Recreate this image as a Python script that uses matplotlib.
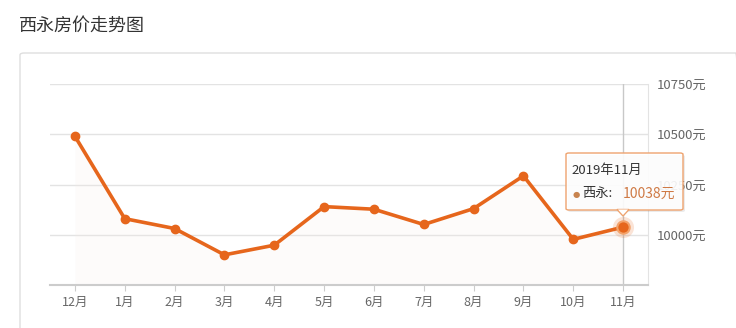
import matplotlib.pyplot as plt
from matplotlib.patches import FancyBboxPatch, Polygon
import numpy as np

plt.rcParams['font.family'] = ['Noto Sans CJK SC', 'DejaVu Sans']

months = ["12月", "1月", "2月", "3月", "4月", "5月", "6月", "7月", "8月", "9月", "10月", "11月"]
prices = [10490, 10080, 10031, 9900, 9948, 10140, 10127, 10051, 10130, 10293, 9977, 10038]
y_ticks = [10000, 10250, 10500, 10750]
title = "西永房价走势图"
tip_month = "2019年11月"
tip_name = "西永:"

W, H = 736, 328
orange = "#e6661c"


def fx(px):
    return px / W


def fy(py):
    return 1 - py / H


fig = plt.figure(figsize=(W / 100, H / 100), dpi=100)
fig.patch.set_facecolor("white")

# card frame
card = FancyBboxPatch((fx(20), fy(340)), fx(740) - fx(20), fy(53) - fy(340),
                      boxstyle="round,pad=0,rounding_size=0.006",
                      transform=fig.transFigure, facecolor="none",
                      edgecolor="#dedede", linewidth=1.0, zorder=-1)
fig.patches.append(card)

fig.text(fx(19), fy(26), title, fontsize=13, color="#333333", va="center", ha="left")

ax = fig.add_axes([fx(50), fy(285), fx(648) - fx(50), fy(84) - fy(285)])
ax.set_facecolor("none")
x = np.arange(len(months))

ax.fill_between(x, prices, 9750, color="#f6ede6", alpha=0.2, linewidth=0, zorder=1)
ax.plot(x, prices, color=orange, linewidth=2.6, marker="o", markersize=6,
        markerfacecolor=orange, markeredgecolor=orange, zorder=3)

# highlighted last point
ax.axvline(x[-1], color="#c8c8c8", linewidth=1, zorder=2)
ax.scatter([x[-1]], [prices[-1]], s=230, color=orange, alpha=0.18, linewidths=0, zorder=4)
ax.scatter([x[-1]], [prices[-1]], s=80, color=orange, edgecolors="#f3a36b",
           linewidths=1.5, zorder=5)

ax.set_xlim(-0.5, len(months) - 0.5)
ax.set_ylim(9750, 10750)
ax.set_xticks(x)
ax.set_xticklabels(months)
ax.set_yticks(y_ticks)
ax.set_yticklabels([f"{v}元" for v in y_ticks])
ax.yaxis.tick_right()
ax.tick_params(axis="y", length=0, pad=6, labelsize=9.5, labelcolor="#666666")
ax.tick_params(axis="x", length=4, color="#cccccc", pad=4, labelsize=9,
               labelcolor="#666666")
ax.grid(axis="y", color="#e3e3e3", linewidth=1)
ax.set_axisbelow(True)
for s in ["top", "left"]:
    ax.spines[s].set_visible(False)
ax.spines["right"].set_color("#e3e3e3")
ax.spines["bottom"].set_color("#cccccc")
ax.spines["bottom"].set_linewidth(1.5)

# tooltip
shadow = FancyBboxPatch((fx(568), fy(212)), fx(683) - fx(566), fy(153) - fy(210),
                        boxstyle="round,pad=0,rounding_size=0.004",
                        transform=fig.transFigure, facecolor="#000000", alpha=0.08,
                        edgecolor="none", zorder=10)
box = FancyBboxPatch((fx(566), fy(210)), fx(683) - fx(566), fy(153) - fy(210),
                     boxstyle="round,pad=0,rounding_size=0.004",
                     transform=fig.transFigure, facecolor=(1, 1, 1, 0.9),
                     edgecolor="#eea36f", linewidth=1.0, zorder=11)
pointer = Polygon([(fx(617), fy(209.5)), (fx(629), fy(209.5)), (fx(623), fy(216))],
                  closed=True, transform=fig.transFigure, facecolor="white",
                  edgecolor="#eea36f", linewidth=1.0, zorder=11)
pointer_cover = Polygon([(fx(618), fy(209.5)), (fx(628), fy(209.5)), (fx(623), fy(214.5))],
                        closed=True, transform=fig.transFigure, facecolor="white",
                        edgecolor="none", zorder=12)
for p in [shadow, box, pointer, pointer_cover]:
    fig.patches.append(p)

fig.text(fx(571), fy(170), tip_month, fontsize=9.5, color="#333333",
         va="center", ha="left", zorder=13)
fig.text(fx(576), fy(194), "●", fontsize=6, color="#c8844f",
         va="center", ha="center", zorder=13, family="DejaVu Sans")
fig.text(fx(582), fy(194), tip_name, fontsize=9.5, color="#333333",
         va="center", ha="left", zorder=13)
fig.text(fx(623), fy(194), f"{prices[-1]}元", fontsize=10, color="#cf7a45",
         va="center", ha="left", zorder=13)

fig.savefig("out.png", dpi=100)
